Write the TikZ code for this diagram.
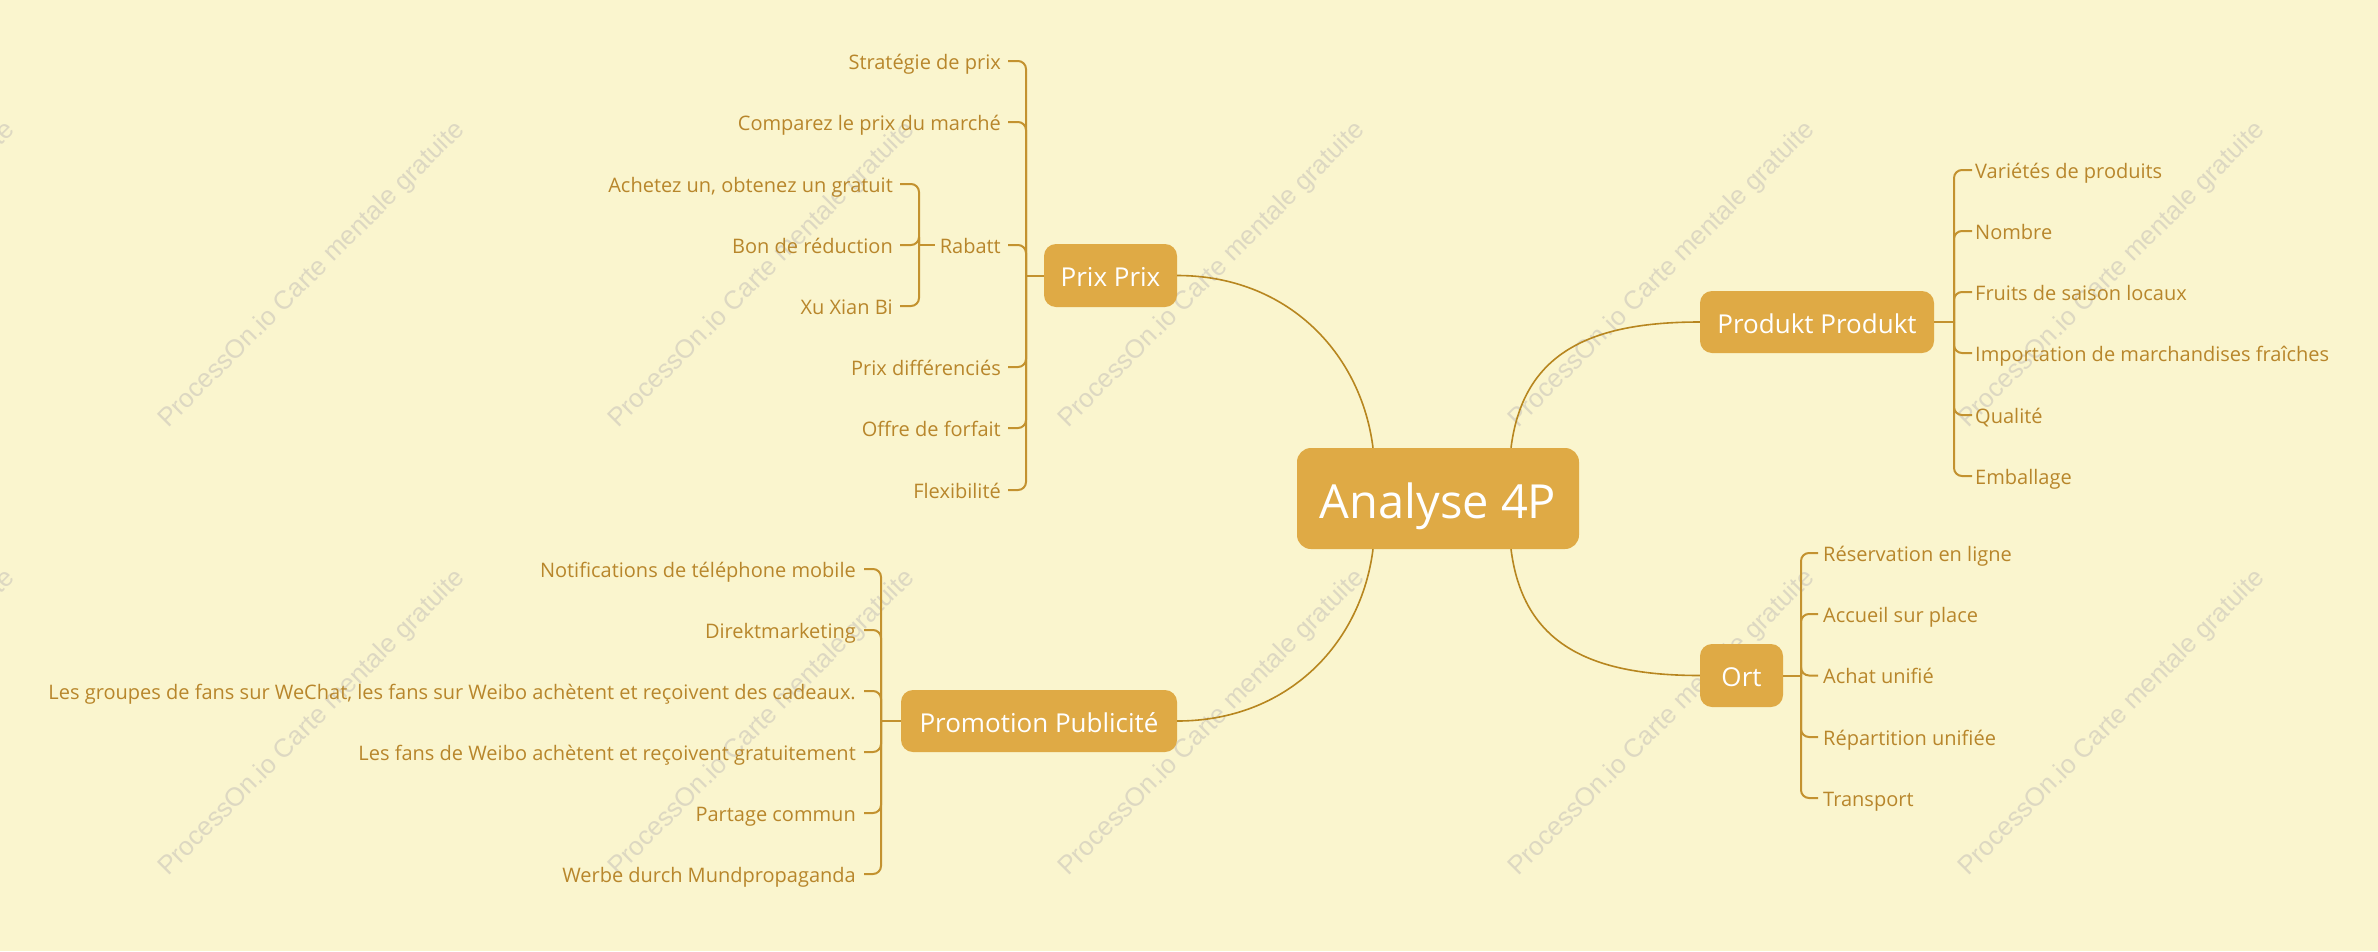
\documentclass[tikz,border=0pt]{standalone}
\usepackage{fontspec}
\setmainfont{Open Sans}
\newfontfamily\wmfont{Liberation Sans}
\definecolor{bgc}{HTML}{FAF5CE}
\definecolor{boxc}{HTML}{DFAA45}
\definecolor{txtc}{HTML}{B8862B}
\definecolor{linec}{HTML}{C3922F}
\definecolor{curvec}{HTML}{B7861F}
\definecolor{wmc}{HTML}{DDD8C2}
\tikzset{
  topic/.style={fill=boxc, text=white, rounded corners=12pt, inner sep=0pt,
    font=\fontsize{26}{30}\selectfont, text height=22pt, text depth=0pt, align=center},
  maintopic/.style={topic, rounded corners=14pt, font=\fontsize{47}{54}\selectfont, text height=39pt},
  leafl/.style={anchor=east, inner sep=0pt, text=txtc, font=\fontsize{20}{24}\selectfont, text height=17pt, text depth=1pt},
  leafr/.style={leafl, anchor=west},
  brk/.style={draw=linec, line width=2pt, rounded corners=8pt},
  curve/.style={draw=curvec, line width=1.6pt},
  wm/.style={text=wmc, font=\wmfont\fontsize{26}{30}\selectfont, rotate=45, inner sep=0pt}
}
\begin{document}
\begin{tikzpicture}[x=1pt,y=-1pt]
\fill[bgc] (0,0) rectangle (2378,951);
\useasboundingbox (0,0) rectangle (2378,951);
% watermarks
\foreach \wx in {-138,312,762,1212,1662,2112}{
  \foreach \wy in {275,723}{
    \node[wm] at (\wx,\wy) {ProcessOn.io Carte mentale gratuite};
  }
}
% main topics
\node[maintopic, minimum width=282pt, minimum height=101pt] (center) at (1438,498.5) {Analyse 4P};
\node[topic, minimum width=133pt, minimum height=63pt] (prix) at (1110.5,275.5) {Prix Prix};
\node[topic, minimum width=276pt, minimum height=62pt] (promo) at (1039,721) {Promotion Publicité};
\node[topic, minimum width=234pt, minimum height=62pt] (produkt) at (1817,322) {Produkt Produkt};
\node[topic, minimum width=83pt, minimum height=63pt] (ort) at (1741.5,675.5) {Ort};
% curves
\draw[curve] (prix.east) .. controls +(110,0) and +(-12,-95) .. ([xshift=-65pt]center.north);
\draw[curve] ([xshift=73pt]center.north) .. controls +(12,-95) and +(-110,0) .. (produkt.west);
\draw[curve] ([xshift=-65pt]center.south) .. controls +(-12,95) and +(110,0) .. (promo.east);
\draw[curve] ([xshift=73pt]center.south) .. controls +(12,95) and +(-110,0) .. (ort.west);
% Prix children
\node[leafl] (p1) at (1001,61) {Stratégie de prix};
\node[leafl] (p2) at (1001,122) {Comparez le prix du marché};
\node[leafl] (p3) at (1001,245) {Rabatt};
\node[leafl] (p4) at (1001,367) {Prix différenciés};
\node[leafl] (p5) at (1001,428) {Offre de forfait};
\node[leafl] (p6) at (1001,490) {Flexibilité};
\coordinate (jp) at (1026,275.5);
\draw[brk] (prix.west) -- (jp);
\foreach \c in {p1,p2,p3,p4,p5,p6}{
  \draw[brk] (jp) |- ([xshift=7pt]\c.east);
}
% Rabatt children
\node[leafl] (r1) at (893,184) {Achetez un, obtenez un gratuit};
\node[leafl] (r2) at (893,245) {Bon de réduction};
\node[leafl] (r3) at (893,306) {Xu Xian Bi};
\coordinate (jr) at (919,245);
\draw[brk] ([xshift=-5pt]p3.west) -- (jr);
\foreach \c in {r1,r2,r3}{
  \draw[brk] (jr) |- ([xshift=7pt]\c.east);
}
% Promotion children
\node[leafl] (m1) at (856,569) {Notifications de téléphone mobile};
\node[leafl] (m2) at (856,630) {Direktmarketing};
\node[leafl] (m3) at (856,691) {Les groupes de fans sur WeChat, les fans sur Weibo achètent et reçoivent des cadeaux.};
\node[leafl] (m4) at (856,752) {Les fans de Weibo achètent et reçoivent gratuitement};
\node[leafl] (m5) at (856,813) {Partage commun};
\node[leafl] (m6) at (856,874) {Werbe durch Mundpropaganda};
\coordinate (jm) at (881,721);
\draw[brk] (promo.west) -- (jm);
\foreach \c in {m1,m2,m3,m4,m5,m6}{
  \draw[brk] (jm) |- ([xshift=8pt]\c.east);
}
% Produkt children
\node[leafr] (d1) at (1975,170) {Variétés de produits};
\node[leafr] (d2) at (1975,231) {Nombre};
\node[leafr] (d3) at (1975,292) {Fruits de saison locaux};
\node[leafr] (d4) at (1975,353) {Importation de marchandises fraîches};
\node[leafr] (d5) at (1975,415) {Qualité};
\node[leafr] (d6) at (1975,476) {Emballage};
\coordinate (jd) at (1954,322);
\draw[brk] (produkt.east) -- (jd);
\foreach \c in {d1,d2,d3,d4,d5,d6}{
  \draw[brk] (jd) |- ([xshift=-3pt]\c.west);
}
% Ort children
\node[leafr] (o1) at (1823,553) {Réservation en ligne};
\node[leafr] (o2) at (1823,614) {Accueil sur place};
\node[leafr] (o3) at (1823,675.5) {Achat unifié};
\node[leafr] (o4) at (1823,737) {Répartition unifiée};
\node[leafr] (o5) at (1823,798) {Transport};
\coordinate (jo) at (1801,675.5);
\draw[brk] (ort.east) -- (jo);
\foreach \c in {o1,o2,o3,o4,o5}{
  \draw[brk] (jo) |- ([xshift=-5pt]\c.west);
}
\end{tikzpicture}
\end{document}
